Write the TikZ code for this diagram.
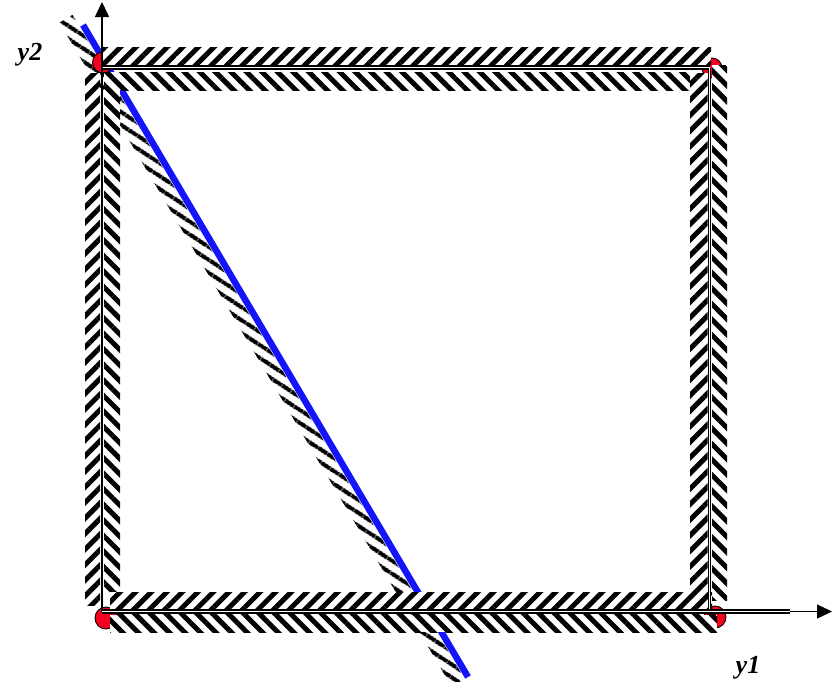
\documentclass[tikz,border=0pt]{standalone}
\usepackage{fontspec}
\setmainfont{Liberation Serif}
\usetikzlibrary{patterns.meta,arrows.meta}
\definecolor{lineblue}{RGB}{20,20,250}
\definecolor{markred}{RGB}{245,0,30}
\tikzset{
  bandA/.style={preaction={fill=white}, pattern={Lines[angle=45,distance=11pt,line width=5pt]}, pattern color=black},
  bandB/.style={preaction={fill=white}, pattern={Lines[angle=-45,distance=11pt,line width=5pt]}, pattern color=black},
  blueband/.style={pattern={Lines[angle=-33,distance=10.5pt,line width=4.2pt]}, pattern color=black},
  bluecut/.style={draw=lineblue, line width=6.5pt},
  vertexmark/.style={fill=markred, draw=black, line width=0.9pt},
  edgedouble/.style={draw=black, line width=1.4pt, double=white, double distance=1.7pt},
  edgesingle/.style={draw=black, line width=2pt},
  axisline/.style={draw=black, line width=1.6pt, -{Triangle[length=15pt,width=14pt]}},
  axislabel/.style={font=\fontsize{26}{30}\selectfont\bfseries\itshape, inner sep=0pt, anchor=base}
}
\begin{document}
\begin{tikzpicture}[x=1pt,y=-1pt]
\useasboundingbox (0,0) rectangle (832,681);
% corners
\coordinate (TL) at (102,67.5);
\coordinate (TR) at (709.5,67.5);
\coordinate (BL) at (102,611.5);
\coordinate (BR) at (709.5,611.5);
\coordinate (yEnd) at (102,2);
\coordinate (xEnd) at (832,611.5);
\coordinate (xMid) at (790,611.5);
\coordinate (cA) at (83,25);
\coordinate (cB) at (468,677);
% blue constraint with its hatching
\path[blueband] (72.5,14.9) -- (59.5,22.6) -- (451.6,686.7) -- (464.6,679.0) -- cycle;
\draw[bluecut] (cA) -- (cB);
% vertex markers
\path[vertexmark] (103,62.5) circle[radius=10.5];
\path[vertexmark] (712,68) circle[radius=10];
\path[vertexmark] (106,618) circle[radius=11];
\path[vertexmark] (715,617) circle[radius=11];
% hatched bands of the square
\path[bandA] (103,47) rectangle (711,64.5);
\path[bandB] (105,72) rectangle (690,90);
\path[bandA] (85,73) rectangle (100,605);
\path[bandB] (104,73) rectangle (120,592);
\path[bandA] (690,73) rectangle (707.5,592);
\path[bandB] (712,65) rectangle (727,600);
\path[bandA] (110,592) rectangle (712,609);
\path[bandB] (110,614.5) rectangle (717,632);
% edges
\draw[edgedouble] (TL) -- (TR);
\draw[edgesingle] (TL) -- (BL);
\draw[edgedouble, line width=1.1pt, double distance=1.2pt] (TR) -- (BR);
% axes
\draw[axisline, line width=1.1pt] (BL) -- (xEnd);
\draw[edgedouble] (BL) -- (xMid);
\draw[axisline] (TL) -- (yEnd);
% labels
\node[axislabel] (lab2) at (30,60) {y2};
\node[axislabel] (lab1) at (748,673) {y1};
\end{tikzpicture}
\end{document}
